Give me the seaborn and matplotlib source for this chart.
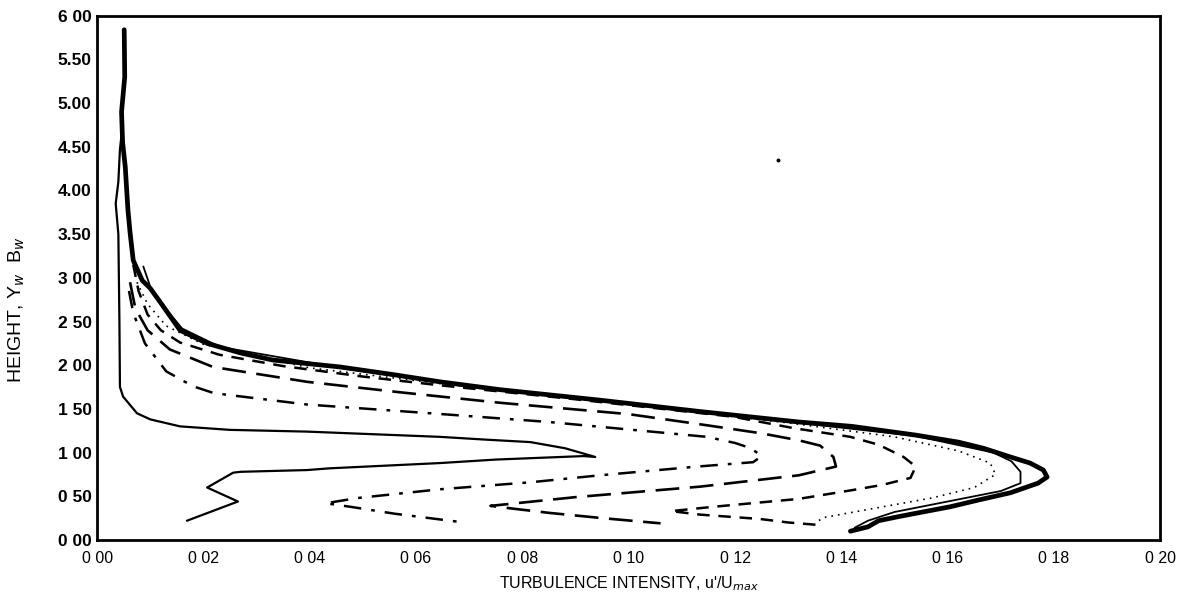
import matplotlib
matplotlib.use("Agg")
import matplotlib.pyplot as plt
import seaborn as sns
import pandas as pd

# ---- data ----
# curve 1: solid thin (innermost)
c1_x = [0.0048, 0.0043, 0.0040, 0.0035, 0.0040, 0.0042, 0.0043, 0.0049, 0.0075, 0.0100, 0.0156,
        0.0250, 0.0395, 0.0645, 0.0726, 0.0815, 0.0880, 0.0937, 0.0915, 0.0750, 0.0645, 0.0438,
        0.0395, 0.0270, 0.0256, 0.0207, 0.0265, 0.0169]
c1_y = [4.75, 4.47, 4.10, 3.85, 3.50, 2.50, 1.75, 1.64, 1.45, 1.38, 1.30,
        1.26, 1.24, 1.18, 1.15, 1.12, 1.05, 0.95, 0.96, 0.92, 0.88, 0.82,
        0.80, 0.78, 0.77, 0.60, 0.44, 0.22]
# curve 2: dash-dot
c2_x = [0.0060, 0.0068, 0.0090, 0.0130, 0.0180, 0.0220, 0.0395, 0.0627, 0.0850, 0.1060, 0.1147,
        0.1200, 0.1230, 0.1250, 0.1234, 0.1129, 0.0946, 0.0815, 0.0645, 0.0490, 0.0430, 0.0476,
        0.0560, 0.0677]
c2_y = [2.85, 2.60, 2.25, 1.93, 1.76, 1.68, 1.55, 1.45, 1.35, 1.23, 1.18,
        1.11, 1.05, 0.96, 0.89, 0.84, 0.74, 0.66, 0.58, 0.48, 0.42, 0.38,
        0.30, 0.21]
# curve 3: long dash
c3_x = [0.0062, 0.0072, 0.0095, 0.0137, 0.0218, 0.0395, 0.0570, 0.0758, 0.1000, 0.1150, 0.1250,
        0.1320, 0.1360, 0.1385, 0.1390, 0.1320, 0.1134, 0.0900, 0.0740, 0.0780, 0.0850, 0.0950,
        0.1060]
c3_y = [2.95, 2.65, 2.40, 2.18, 1.98, 1.81, 1.69, 1.57, 1.44, 1.31, 1.22,
        1.14, 1.08, 0.95, 0.84, 0.74, 0.61, 0.49, 0.39, 0.36, 0.31, 0.25,
        0.19]
# curve 4: short dash
c4_x = [0.0068, 0.0078, 0.0095, 0.0120, 0.0156, 0.0230, 0.0350, 0.0500, 0.0645, 0.0900, 0.1197,
        0.1310, 0.1417, 0.1470, 0.1517, 0.1540, 0.1530, 0.1477, 0.1420, 0.1320, 0.1160, 0.1080,
        0.1134, 0.1247, 0.1300, 0.1360]
c4_y = [3.15, 2.85, 2.58, 2.40, 2.26, 2.12, 1.99, 1.87, 1.77, 1.61, 1.41,
        1.28, 1.18, 1.09, 0.95, 0.84, 0.71, 0.63, 0.57, 0.47, 0.38, 0.33,
        0.29, 0.24, 0.20, 0.17]
# curve 5: dotted
c5_x = [0.0075, 0.0095, 0.0130, 0.0200, 0.0400, 0.0700, 0.1000, 0.1300, 0.1500, 0.1620, 0.1680,
        0.1690, 0.1650, 0.1570, 0.1460, 0.1370, 0.1350]
c5_y = [2.95, 2.70, 2.45, 2.24, 1.97, 1.75, 1.55, 1.34, 1.18, 1.02, 0.88,
        0.75, 0.60, 0.48, 0.36, 0.26, 0.20]
# curve 6: thin solid (next to the outer envelope)
c6_x = [0.0087, 0.0100, 0.0119, 0.0160, 0.0231, 0.0457, 0.0645, 0.0946, 0.1134, 0.1320, 0.1540,
        0.1686, 0.1720, 0.1737, 0.1737, 0.1700, 0.1600, 0.1500, 0.1450, 0.1425]
c6_y = [3.13, 2.90, 2.72, 2.42, 2.21, 1.97, 1.80, 1.59, 1.46, 1.34, 1.19,
        1.00, 0.90, 0.78, 0.65, 0.56, 0.44, 0.32, 0.22, 0.14]
# curve 7: thick solid (outer envelope)
c7_x = [0.0051, 0.0052, 0.0046, 0.0048, 0.0053, 0.0058, 0.0062, 0.0068, 0.0085, 0.0100, 0.0119,
        0.0156, 0.0207, 0.0270, 0.0330, 0.0457, 0.0560, 0.0645, 0.0758, 0.0946, 0.1134, 0.1320,
        0.1420, 0.1540, 0.1620, 0.1667, 0.1718, 0.1755, 0.1780, 0.1787, 0.1770, 0.1718, 0.1660,
        0.1605, 0.1510, 0.1470, 0.1450, 0.1417]
c7_y = [5.84, 5.30, 4.90, 4.55, 4.27, 3.78, 3.52, 3.20, 2.97, 2.88, 2.72,
        2.40, 2.25, 2.14, 2.06, 1.98, 1.89, 1.81, 1.72, 1.60, 1.47, 1.35,
        1.30, 1.20, 1.12, 1.05, 0.95, 0.88, 0.80, 0.72, 0.65, 0.54, 0.46,
        0.38, 0.27, 0.22, 0.15, 0.10]
# stray speck in the scan
speck_x = [0.128]
speck_y = [4.35]

x_ticks = [0.00, 0.02, 0.04, 0.06, 0.08, 0.10, 0.12, 0.14, 0.16, 0.18, 0.20]
x_tick_labels = ["0 00", "0 02", "0 04", "0 06", "0 08", "0 10", "0 12", "0 14", "0 16", "0 18", "0 20"]
y_ticks = [0.00, 0.50, 1.00, 1.50, 2.00, 2.50, 3.00, 3.50, 4.00, 4.50, 5.00, 5.50, 6.00]
y_tick_labels = ["0 00", "0 50", "1 00", "1 50", "2 00", "2 50", "3 00", "3.50", "4.00", "4.50",
                 "5.00", "5.50", "6 00"]

# ---- plotting ----
sns.set_theme(style="white")
plt.rcParams["font.family"] = ["Liberation Sans", "DejaVu Sans"]

fig = plt.figure(figsize=(11.84, 6.06), dpi=100)
ax = fig.add_axes([0.082, 0.109, 0.898, 0.865])

curves = [
    (c1_x, c1_y, "-", 1.6),
    (c2_x, c2_y, (0, (7, 4, 1.5, 4)), 1.8),
    (c3_x, c3_y, (0, (9, 4)), 1.9),
    (c4_x, c4_y, (0, (5, 3.5)), 1.8),
    (c5_x, c5_y, (0, (1, 3)), 1.2),
    (c6_x, c6_y, "-", 1.3),
    (c7_x, c7_y, "-", 3.4),
]
for xs, ys, ls, lw in curves:
    df = pd.DataFrame({"x": xs, "y": ys})
    sns.lineplot(data=df, x="x", y="y", sort=False, estimator=None, ax=ax,
                 color="black", linestyle=ls, linewidth=lw)

sns.scatterplot(x=speck_x, y=speck_y, ax=ax, color="black", s=8, marker="o", linewidth=0)

ax.set_xlim(0, 0.20)
ax.set_ylim(0, 6.0)
ax.set_xticks(x_ticks)
ax.set_xticklabels(x_tick_labels)
ax.set_yticks(y_ticks)
ax.set_yticklabels(y_tick_labels)
ax.tick_params(axis="both", direction="in", length=6, width=1.5, color="black",
               labelcolor="black")
ax.tick_params(axis="y", labelsize=12.5, pad=4)
ax.tick_params(axis="x", labelsize=11.5, pad=8)
for lab in ax.get_yticklabels():
    lab.set_fontweight("bold")

for sp in ax.spines.values():
    sp.set_color("black")
    sp.set_linewidth(2)

ax.set_xlabel("TURBULENCE INTENSITY, u'/U$_{max}$", fontsize=11.5, color="black", labelpad=6)
ax.set_ylabel("HEIGHT, Y$_w$  B$_w$", fontsize=14, color="black")
ax.yaxis.set_label_coords(-0.066, 0.44)

fig.savefig("out.png", dpi=100, facecolor="white")
